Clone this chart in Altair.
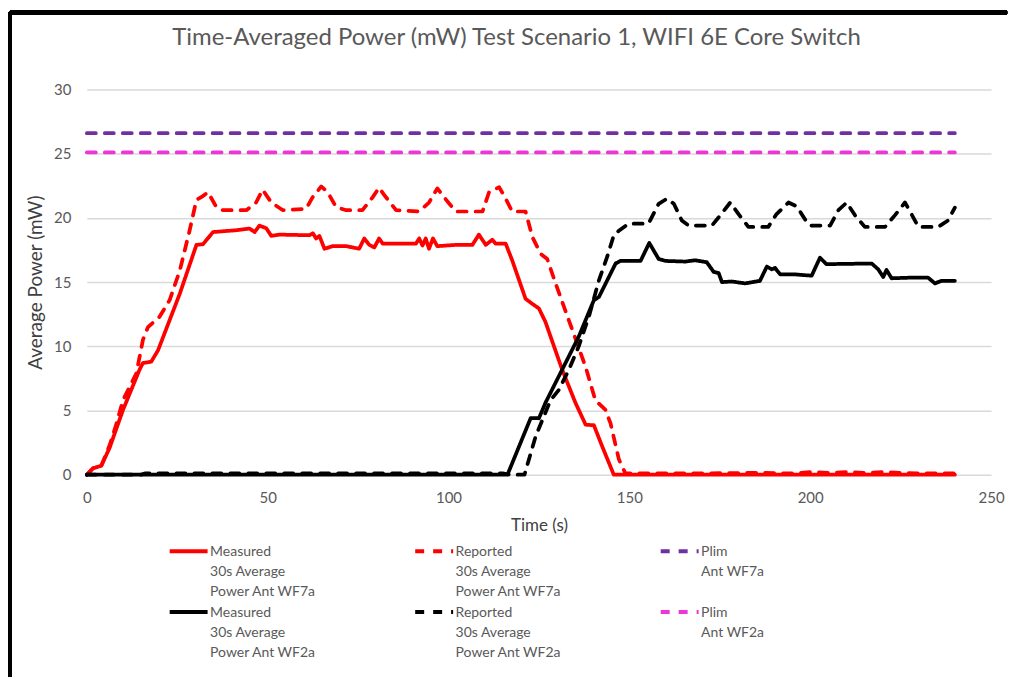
import altair as alt
import pandas as pd

FONT = "Lato"

# ---------------- data ----------------
series_names = [
    "Measured|30s Average|Power Ant WF7a",
    "Reported|30s Average|Power Ant WF7a",
    "Plim|Ant WF7a| ",
    "Measured|30s Average|Power Ant WF2a",
    "Reported|30s Average|Power Ant WF2a",
    "Plim|Ant WF2a| ",
]
series_colors = ["#FF0000", "#FF0000", "#7030A0", "#000000", "#000000", "#EE35D5"]
series_dashes = [[1, 0], [9, 9], [9, 9], [1, 0], [9, 9], [9, 9]]

meas7_t = [0, 1.7, 4, 6.3, 10, 14.6, 15.5, 17.8, 19.7, 25.7, 30.3, 32.1, 34.9, 37.6, 41.3,
           45, 46.4, 47.7, 49.6, 51, 53.3, 61.5, 62.5, 63.4, 64.3, 65.7, 68, 71.7, 75.3,
           76.7, 78.1, 79.5, 80.8, 81.8, 91, 91.9, 92.8, 93.7, 94.6, 95.7, 96.9, 102, 106.6,
           108.4, 110.3, 112.1, 113, 115.8, 117.6, 121.3, 123.2, 125, 126.8, 131.4, 135.1,
           137.9, 140.2, 142.5, 145.7, 240]
meas7_v = [0, 0.5, 0.7, 2.1, 5.05, 8.2, 8.7, 8.8, 9.7, 14.1, 17.9, 17.95, 18.9, 18.96, 19.04,
           19.17, 18.9, 19.4, 19.2, 18.6, 18.7, 18.65, 18.8, 18.4, 18.6, 17.6, 17.8, 17.8, 17.6,
           18.4, 17.9, 17.7, 18.4, 18.0, 18.0, 18.4, 17.85, 18.4, 17.6, 18.4, 17.8, 17.9, 17.9,
           18.7, 17.9, 18.3, 18.0, 18.0, 16.7, 13.7, 13.3, 12.95, 11.9, 8.2, 5.6,
           3.9, 3.85, 2.2, 0, 0]

rep7_t = [0, 1.7, 4, 6.3, 8, 10, 13.7, 15.5, 16.9, 20.1, 22.9, 25.7, 28.4, 30.3, 32.1, 33.5,
          35.8, 37.6, 44.1, 46.8, 48.6, 51, 54.2, 60.6, 62.4, 64.8, 66.6, 68.9, 71.7, 76.2,
          79, 80.8, 82.2, 85.5, 91.9, 94.6, 96.9, 98.8, 102, 109.4, 111.2, 114, 115.8, 117.6,
          121.3, 123.2, 125.5, 127.3, 129.6, 134.2, 137.9, 140.6, 143.4, 144.8, 147.1, 148.9,
          155, 170, 185, 195, 200, 205, 210, 215, 220, 225, 230, 240]
rep7_v = [0, 0.5, 0.7, 2.3, 3.8, 5.8, 7.9, 10.5, 11.5, 12.3, 13.6, 15.9, 19.0, 21.4, 21.7, 22.0,
          20.85, 20.6, 20.6, 21.2, 22.2, 21.2, 20.6, 20.7, 21.6, 22.45, 22.0, 20.85, 20.6, 20.6,
          21.6, 22.35, 21.8, 20.6, 20.5, 21.2, 22.3, 21.6, 20.5, 20.5, 22.0, 22.4, 21.5, 20.5,
          20.5, 18.5, 17.2, 16.8, 14.9, 11.3, 8.4, 5.8, 5.05, 4.0, 1.2, 0.1,
          0.1, 0.1, 0.15, 0.1, 0.2, 0.15, 0.2, 0.15, 0.2, 0.15, 0.1, 0.1]

plim7_t = [0, 240]
plim7_v = [26.6, 26.6]

meas2_t = [0, 116.3, 122.7, 125, 126.8, 136, 140.2, 141.6, 146.2, 147.5, 153.1, 155.5, 158.1,
           160, 165.5, 168.2, 171.4, 173.3, 174.7, 175.6, 178.3, 182, 186.1, 188, 189.4, 190.3,
           191.7, 195.8, 200.4, 202.7, 204.5, 217, 218.8, 220.2, 221.1, 222.5, 228, 232.6,
           234.5, 236.3, 240]
meas2_v = [0, 0, 4.4, 4.4, 5.6, 10.75, 13.6, 13.85, 16.45, 16.65, 16.65, 18.05, 16.8,
           16.65, 16.6, 16.7, 16.55, 15.8, 15.7, 15.0, 15.05, 14.9, 15.1, 16.2, 16.0, 16.1,
           15.6, 15.6, 15.5, 16.9, 16.4, 16.45, 16.0, 15.4, 15.95, 15.3, 15.35, 15.35,
           14.9, 15.1, 15.1]

rep2_t = [0, 15, 16, 115, 117, 121, 124.1, 128.2, 130.5, 133.3, 136, 138.8, 141.6, 143.9,
          145.7, 147.1, 149.8, 155.3, 158.1, 160.4, 162.3, 164.5, 166.4, 172.8, 174.7, 177.9,
          180.2, 182.9, 188.4, 190.7, 194, 196.3, 199, 200, 205.5, 207.8, 210.1, 212.4, 215.1,
          220.7, 223.4, 226.2, 228, 229.9, 235.4, 238.1, 240]
rep2_v = [0, 0, 0.1, 0.1, 0, 0, 3.0, 5.8, 6.6, 8.2, 10, 12.3, 15.15, 17,
          18.65, 19.0, 19.55, 19.55, 21.1, 21.5, 21.1, 19.8, 19.4, 19.4, 20.05, 21.2,
          20.3, 19.3, 19.3, 20.3, 21.2, 20.9, 19.7, 19.4, 19.4, 20.6, 21.2, 20.2, 19.3,
          19.3, 20.2, 21.2, 20.3, 19.3, 19.3, 19.8, 20.8]

plim2_t = [0, 240]
plim2_v = [25.1, 25.1]

x_ticks = [0, 50, 100, 150, 200, 250]
y_ticks = [0, 5, 10, 15, 20, 25, 30]

# ---------------- build table ----------------
all_series = [
    (series_names[0], meas7_t, meas7_v),
    (series_names[1], rep7_t, rep7_v),
    (series_names[2], plim7_t, plim7_v),
    (series_names[3], meas2_t, meas2_v),
    (series_names[4], rep2_t, rep2_v),
    (series_names[5], plim2_t, plim2_v),
]
rows = []
for name, ts, vs in all_series:
    for i, (t, v) in enumerate(zip(ts, vs)):
        rows.append({"series": name, "t": t, "v": v, "i": i})
df = pd.DataFrame(rows)

LABEL_DY = -6  # lifts multi-line legend labels so the first line sits on the symbol

legend = alt.Legend(
    title=None,
    orient="none",
    legendX=81,
    legendY=451,
    columns=3,
    direction="horizontal",
    symbolType="M-2,0H2",
    symbolSize=361,
    symbolOffset=9.5,
    symbolStrokeWidth=4,
    labelExpr="split(datum.label, '|')",
    labelFont=FONT,
    labelFontSize=14,
    labelColor="#595959",
    labelLimit=400,
    labelOffset=10,
    labelBaseline="top",
    columnPadding=91,
    rowPadding=1,
)

lines = alt.Chart(df).mark_line(strokeWidth=3.75, strokeCap="round", strokeJoin="round").encode(
    x=alt.X("t:Q", scale=alt.Scale(domain=[0, 250], nice=False),
            axis=alt.Axis(title="Time (s)", values=x_ticks, grid=False, ticks=False, domain=False,
                          labelFlush=False, labelPadding=16 - LABEL_DY, titlePadding=12,
                          titleFontSize=17)),
    y=alt.Y("v:Q", scale=alt.Scale(domain=[0, 30], nice=False),
            axis=alt.Axis(title="Average Power (mW)", values=y_ticks, ticks=False, domain=False,
                          gridColor="#D9D9D9", gridWidth=1.5, labelPadding=16, titlePadding=8,
                          labelOffset=-LABEL_DY, titleFontSize=19)),
    color=alt.Color("series:N", scale=alt.Scale(domain=series_names, range=series_colors), legend=legend),
    strokeDash=alt.StrokeDash("series:N", scale=alt.Scale(domain=series_names, range=series_dashes), legend=legend),
    order=alt.Order("i:Q"),
)

# black frame of the original screenshot (top and left edges)
frame_top = alt.Chart(df).mark_rule(color="black", strokeWidth=4).encode(
    x=alt.value(-77), x2=alt.value(922), y=alt.value(-77))
frame_left = alt.Chart(df).mark_rule(color="black", strokeWidth=4).encode(
    x=alt.value(-77), y=alt.value(-77), y2=alt.value(588))

chart = alt.layer(lines, frame_top, frame_left).properties(
    width=906,
    height=386,
    padding={"left": 0, "top": 2, "right": 0, "bottom": 0},
    title=alt.TitleParams(
        "Time-Averaged Power (mW) Test Scenario 1, WIFI 6E Core Switch",
        font=FONT, fontSize=24, fontWeight="normal", color="#595959",
        anchor="middle", frame="bounds", dx=8, offset=-39,
    ),
).configure(
    font=FONT,
    style={"guide-label": {"lineHeight": 20, "dy": LABEL_DY}},
).configure_axis(
    labelFont=FONT, labelFontSize=15, labelColor="#595959",
    titleFont=FONT, titleFontWeight="normal", titleColor="#404040",
).configure_view(stroke=None)

chart.save("out.html", embed_options={"renderer": "svg", "actions": False})
